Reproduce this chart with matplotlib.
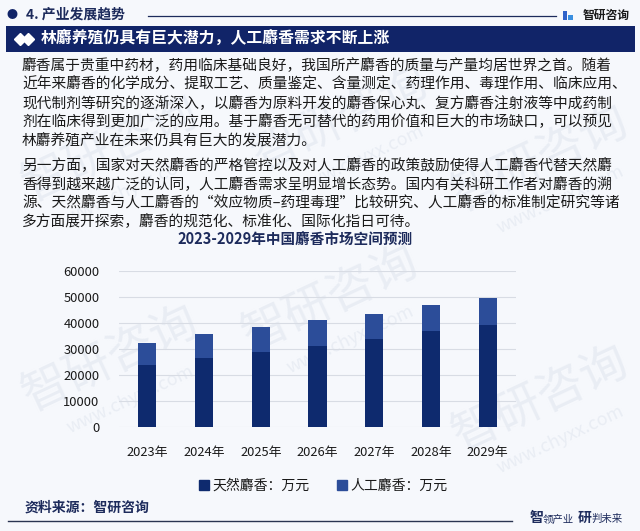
import matplotlib.pyplot as plt
from matplotlib.patches import Rectangle, Patch
import numpy as np

plt.rcParams['font.family'] = ['Noto Sans CJK SC', 'DejaVu Sans']

years = ['2023年', '2024年', '2025年', '2026年', '2027年', '2028年', '2029年']
natural = [23800, 26600, 28900, 31200, 33700, 36900, 39200]      # 天然麝香
artificial = [8600, 9000, 9400, 9800, 9600, 10000, 10500]        # 人工麝香
yticks = [0, 10000, 20000, 30000, 40000, 50000, 60000]

para1 = ['麝香属于贵重中药材，药用临床基础良好，我国所产麝香的质量与产量均居世界之首。随着',
         '近年来麝香的化学成分、提取工艺、质量鉴定、含量测定、药理作用、毒理作用、临床应用、',
         '现代制剂等研究的逐渐深入，以麝香为原料开发的麝香保心丸、复方麝香注射液等中成药制',
         '剂在临床得到更加广泛的应用。基于麝香无可替代的药用价值和巨大的市场缺口，可以预见',
         '林麝养殖产业在未来仍具有巨大的发展潜力。']
para2 = ['另一方面，国家对天然麝香的严格管控以及对人工麝香的政策鼓励使得人工麝香代替天然麝',
         '香得到越来越广泛的认同，人工麝香需求呈明显增长态势。国内有关科研工作者对麝香的溯',
         '源、天然麝香与人工麝香的“效应物质–药理毒理”比较研究、人工麝香的标准制定研究等诸',
         '多方面展开探索，麝香的规范化、标准化、国际化指日可待。']

W, H = 640, 531
navy = '#112468'
dark = '#0e2a6e'
light = '#2c4d99'
text_navy = '#1d2b5c'

def fx(x):
    return x / W

def fy(y):
    return 1 - y / H

fig = plt.figure(figsize=(6.4, 5.31), dpi=100, facecolor='#f6f8fc')

# faint watermarks
for (x, y) in [(110, 150), (340, 120), (110, 360), (330, 300), (540, 160), (540, 400)]:
    fig.text(fx(x), fy(y), '智研咨询', fontsize=34, color='#e9edf4', rotation=25,
             ha='center', va='center', zorder=-2)
    fig.text(fx(x + 20), fy(y + 40), 'www.chyxx.com', fontsize=13, color='#e9edf4', rotation=25,
             ha='center', va='center', zorder=-2)

# header
fig.text(fx(12), fy(15), '●', fontsize=8, color=navy, ha='center', va='center')
fig.text(fx(26), fy(15), '4. 产业发展趋势', fontsize=10, color=text_navy,
         fontweight='bold', ha='left', va='center')
fig.add_artist(plt.Line2D([fx(148), fx(556)], [fy(16), fy(16)], color=text_navy, lw=0.9))
fig.add_artist(Rectangle((fx(563), fy(20)), fx(4), 9 / H, color='#2f62c9', lw=0))
fig.add_artist(Rectangle((fx(568), fy(20)), fx(5), 5 / H, color='#3a8fe0', lw=0))
fig.text(fx(583), fy(15), '智研咨询', fontsize=8.5, color='#1a1a1a', fontweight='bold',
         ha='left', va='center')

# title bar
fig.add_artist(Rectangle((fx(6), fy(52)), fx(629), 26 / H, color=navy, lw=0))
fig.add_artist(plt.Line2D([fx(20), fx(28)], [fy(39), fy(39)], lw=0, marker='D',
                          markersize=6, color='white'))
fig.text(fx(41), fy(39), '林麝养殖仍具有巨大潜力，人工麝香需求不断上涨', fontsize=11.4,
         color='white', fontweight='bold', ha='left', va='center')

# body text
y = 66
for line in para1:
    fig.text(fx(22), fy(y), line, fontsize=10.6, color='#1a1a1a', ha='left', va='center')
    y += 18.7
y += 6
for line in para2:
    fig.text(fx(22), fy(y), line, fontsize=10.6, color='#1a1a1a', ha='left', va='center')
    y += 18.7

# chart
fig.text(fx(295), fy(240), '2023-2029年中国麝香市场空间预测', fontsize=10.5,
         color=text_navy, fontweight='bold', ha='center', va='center')

ax = fig.add_axes([fx(119), fy(426.7), fx(397), (426.7 - 271) / H])
ax.set_facecolor('none')
x = np.arange(len(years))
ax.bar(x, natural, width=0.32, color=dark, zorder=3)
ax.bar(x, artificial, width=0.32, bottom=natural, color=light, zorder=3)
ax.set_xlim(-0.5, len(years) - 0.5)
ax.set_ylim(0, 60000)
ax.set_yticks(yticks)
ax.set_yticklabels([str(v) for v in yticks])
ax.set_xticks(x)
ax.set_xticklabels(years)
ax.yaxis.grid(True, color='#d8dce4', lw=0.8, zorder=0)
ax.set_axisbelow(True)
for s in ax.spines.values():
    s.set_visible(False)
ax.tick_params(axis='y', length=0, pad=14, labelsize=9.3, labelcolor='#1a1a1a')
ax.tick_params(axis='x', length=0, pad=14, labelsize=9.3, labelcolor='#1a1a1a')

handles = [Patch(color=dark, label='天然麝香：万元'), Patch(color=light, label='人工麝香：万元')]
fig.legend(handles=handles, loc='center', bbox_to_anchor=(fx(323), fy(486)), ncol=2,
           frameon=False, fontsize=10, handlelength=0.75, handleheight=0.75,
           handletextpad=0.2, columnspacing=2.0, labelcolor='#1a1a1a')

# footer
fig.text(fx(25), fy(508), '资料来源：智研咨询', fontsize=10, color=text_navy,
         fontweight='bold', ha='left', va='center')
fig.add_artist(plt.Line2D([fx(8), fx(512)], [fy(521), fy(521)], color='#2a3552', lw=1.0))
fig.text(fx(530), fy(518), '智', fontsize=10, color=text_navy, fontweight='bold', ha='left', va='center')
fig.text(fx(543), fy(519), '领产业', fontsize=7.5, color=text_navy, ha='left', va='center')
fig.text(fx(578), fy(518), '研', fontsize=10, color=text_navy, fontweight='bold', ha='left', va='center')
fig.text(fx(591), fy(519), '判未来', fontsize=7.5, color=text_navy, ha='left', va='center')

fig.savefig('out.png', dpi=100, facecolor=fig.get_facecolor())
